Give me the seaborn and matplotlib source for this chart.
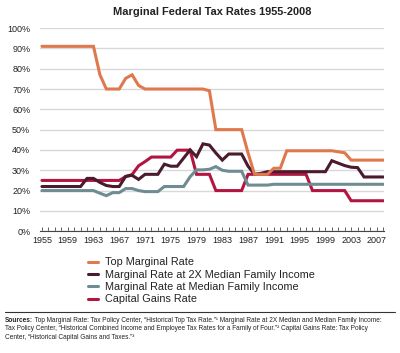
import numpy as np
import pandas as pd
import matplotlib
matplotlib.use("Agg")
import matplotlib.pyplot as plt
import seaborn as sns
from matplotlib.ticker import MultipleLocator, FuncFormatter
from matplotlib.lines import Line2D

years = list(range(1955, 2009))

top_rate = ([91]*9 + [77] + [70]*3 + [75.25, 77, 71.75] + [70]*10 + [69.13]
            + [50]*5 + [38.5] + [28]*3 + [31]*2 + [39.6]*8 + [39.1, 38.6] + [35]*6)

twice_median = ([22]*7 + [26, 26, 24, 22.5, 22, 22, 27, 27.5, 25.5, 28, 28, 28, 33, 32, 32, 36, 40,
                 36.7, 43, 42.4, 38.5, 35, 38, 38, 38, 32, 28, 28.5, 29.3]
                + [29.3]*9 + [34.7, 33.5, 32.3, 31.5, 31.3] + [26.7]*4)

median = ([20]*9 + [18.7, 17.5, 19, 19, 21, 21, 20, 19.5, 19.5, 19.5, 22, 22, 22, 22, 26.8,
          30.2, 30.2, 30.5, 31.8, 30, 29.5, 29.5, 29.5] + [22.7]*4 + [23.1]*18)

cap_gains = ([25]*13 + [26.9, 27.9, 32.2, 34.25] + [36.5]*4 + [39.9]*3 + [28]*3
             + [20]*5 + [28]*10 + [20]*6 + [15]*6)

series_names = ["Top Marginal Rate",
                "Marginal Rate at 2X Median Family Income",
                "Marginal Rate at Median Family Income",
                "Capital Gains Rate"]
series_values = [top_rate, twice_median, median, cap_gains]
colors = ["#E0784E", "#4A1A2E", "#6E8C92", "#B31540"]

xticks = list(range(1955, 2008, 4))
yticks = list(range(0, 101, 10))

rows = []
for name, vals in zip(series_names, series_values):
    assert len(vals) == len(years), (name, len(vals))
    for y, v in zip(years, vals):
        rows.append({"Year": y, "Rate": v, "Series": name})
df = pd.DataFrame(rows)

sns.set_theme(style="white")
plt.rcParams["font.family"] = ["Liberation Sans", "DejaVu Sans"]

fig = plt.figure(figsize=(4.0, 3.53), dpi=100)
ax = fig.add_axes([0.10, 0.345, 0.86, 0.5755])

sns.lineplot(data=df, x="Year", y="Rate", hue="Series", hue_order=series_names,
             palette=colors, linewidth=2.2, ax=ax, legend=False, zorder=3)
for ln, z in zip(ax.get_lines(), [6, 5, 4, 3]):
    ln.set_zorder(z)
    ln.set_solid_joinstyle("miter")

ax.set_xlim(1954.7, 2008.1)
ax.set_ylim(0, 100)
ax.set_xticks(xticks)
ax.xaxis.set_minor_locator(MultipleLocator(1))
ax.set_yticks(yticks)
ax.yaxis.set_major_formatter(FuncFormatter(lambda v, p: f"{int(v)}%"))
ax.set_xlabel("")
ax.set_ylabel("")

for s in ["left", "right", "top"]:
    ax.spines[s].set_visible(False)
ax.spines["bottom"].set_color("#444444")
ax.spines["bottom"].set_linewidth(0.8)
ax.grid(axis="y", color="#d8d8d8", linewidth=1.0)
ax.grid(axis="x", visible=False)
ax.set_axisbelow(True)

ax.tick_params(axis="x", which="both", direction="in", length=3, width=0.6,
               color="#444444", labelsize=6.5, pad=3.5, labelcolor="#222222", bottom=True)
ax.tick_params(axis="y", which="both", length=0, labelsize=6.5, pad=7, labelcolor="#222222")

fig.text(0.53, 0.965, "Marginal Federal Tax Rates 1955-2008", ha="center", va="center",
         fontsize=7.9, fontweight="bold", color="#222222")

handles = [Line2D([0], [0], color=c, lw=2.2) for c in colors]
leg = fig.legend(handles, series_names, loc="upper left", bbox_to_anchor=(0.22, 0.271),
                 frameon=False, fontsize=7.8, handlelength=0.9, handletextpad=0.65,
                 labelspacing=0.22, borderaxespad=0, borderpad=0)
for t in leg.get_texts():
    t.set_color("#222222")

fig.add_artist(Line2D([0.0125, 0.9875], [1 - 312/353]*2, color="#333333", lw=0.8,
                      transform=fig.transFigure))

src_fs = 4.7
l1_rest = " Top Marginal Rate: Tax Policy Center, \u201cHistorical Top Tax Rate.\u201d\u00b9 Marginal Rate at 2X Median and Median Family Income:"
l2 = "Tax Policy Center, \u201cHistorical Combined Income and Employee Tax Rates for a Family of Four.\u201d\u00b2 Capital Gains Rate: Tax Policy"
l3 = "Center, \u201cHistorical Capital Gains and Taxes.\u201d\u00b3"

b = fig.text(0.0125, 1 - 320/353, "Sources:", fontsize=src_fs, fontweight="bold",
             va="center", ha="left", color="#222222")
fig.canvas.draw()
bb = b.get_window_extent(fig.canvas.get_renderer())
x_after = bb.x1 / fig.bbox.width
fig.text(x_after, 1 - 320/353, l1_rest, fontsize=src_fs, va="center", ha="left", color="#222222")
fig.text(0.0125, 1 - 328.7/353, l2, fontsize=src_fs, va="center", ha="left", color="#222222")
fig.text(0.0125, 1 - 337.5/353, l3, fontsize=src_fs, va="center", ha="left", color="#222222")

fig.savefig("out.png", dpi=100)
